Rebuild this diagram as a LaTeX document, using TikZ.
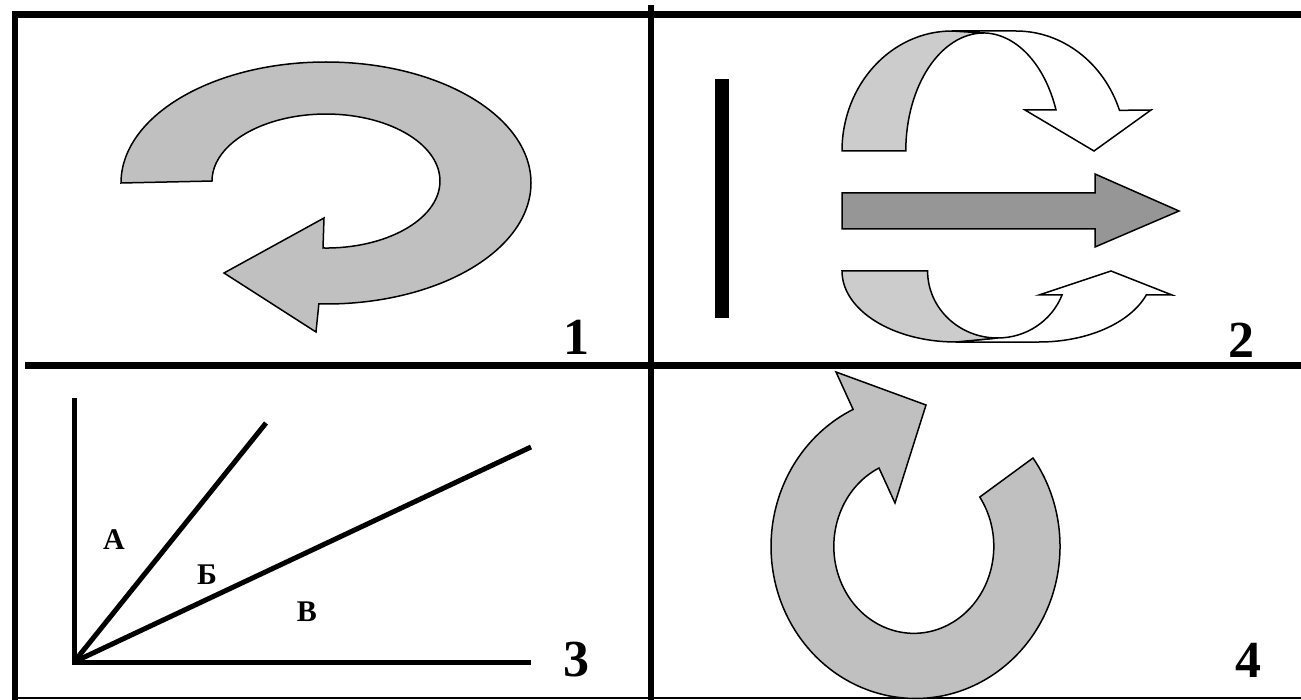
\documentclass[tikz,border=0pt]{standalone}
\usepackage{fontspec}
\setmainfont{Liberation Serif}
\definecolor{fillA}{HTML}{C0C0C0}
\definecolor{fillB}{HTML}{CCCCCC}
\definecolor{fillC}{HTML}{969696}
\begin{document}
\begin{tikzpicture}[x=0.5pt,y=-0.5pt,
  frameline/.style={line width=3.5pt},
  shapeline/.style={draw=black,line width=0.75pt,line join=miter},
  numlabel/.style={font=\fontsize{26}{26}\selectfont\bfseries,inner sep=0pt},
  letlabel/.style={font=\fontsize{15}{15}\selectfont\bfseries,inner sep=0pt},
  axisline/.style={line width=2.5pt,line join=miter}]
\useasboundingbox (0,0) rectangle (1301,700);
% frame
\draw[frameline] (12,15) -- (1301,15);
\draw[line width=3pt] (15,12) -- (15,700);
\draw[line width=3pt] (651,5) -- (651,700);
\draw[frameline] (25,365) -- (1301,365);
\draw[line width=0.8pt] (15,698) -- (1301,698);

% panel 1
\filldraw[shapeline, fill=fillA] (121,183)
  arc[start angle=180, end angle=452, x radius=205, y radius=121]
  -- (316,332) -- (224,273) -- (324,218) -- (323,248)
  arc[start angle=451.5, end angle=180, x radius=114, y radius=67] -- cycle;
\node[numlabel] (n1) at (576,337) {1};

% panel 2
\fill (715,79) rectangle (729,318);
% top curved arrow
\filldraw[shapeline, fill=white] (952,31) -- (1016,31)
  arc[start angle=270, end angle=340.2, x radius=110, y radius=120]
  -- (1151,110) -- (1094,151) -- (1025,110) -- (1056,110)
  arc[start angle=339.7, end angle=270, x radius=78, y radius=118] -- cycle;
\filldraw[shapeline, fill=fillB] (842,151)
  arc[start angle=180, end angle=270, x radius=110, y radius=120]
  -- (983.8,33)
  arc[start angle=270, end angle=180, x radius=78, y radius=118] -- cycle;
% middle arrow
\filldraw[shapeline, fill=fillC] (842,193) -- (1095,193) -- (1095,174)
  -- (1179,211) -- (1095,247) -- (1095,229) -- (842,229) -- cycle;
% bottom curved arrow
\filldraw[shapeline, fill=white] (956,342) -- (1039,342)
  arc[start angle=90, end angle=19.7, x radius=114, y radius=71]
  -- (1172,295) -- (1111,271) -- (1039,295) -- (1062,295)
  arc[start angle=21, end angle=90, x radius=69, y radius=67] -- cycle;
\filldraw[shapeline, fill=fillB] (842,271)
  arc[start angle=180, end angle=90, x radius=114, y radius=71]
  -- (997.6,338)
  arc[start angle=90, end angle=180, x radius=70, y radius=67] -- cycle;
\node[numlabel] (n2) at (1241,340) {2};

% panel 3
\coordinate (O) at (74,662);
\coordinate (ytop) at (74,398);
\coordinate (xend) at (531,662);
\coordinate (rA) at (266,423);
\coordinate (rB) at (531,447);
\draw[axisline] (ytop) -- (O) -- (xend);
\draw[axisline] (O) -- (rA);
\draw[axisline] (O) -- (rB);
\node[letlabel] (la) at (114,540) {А};
\node[letlabel] (lb) at (207,575) {Б};
\node[letlabel] (lv) at (307,612) {В};
\node[numlabel] (n3) at (576,660) {3};

% panel 4
\filldraw[shapeline, fill=fillA] (1033,458)
  arc[start angle=324.4, end angle=604.4, x radius=144.5, y radius=152]
  -- (836,372) -- (926,405) -- (895,503) -- (879,468)
  arc[start angle=604.2, end angle=325.5, x radius=80, y radius=87] -- cycle;
\node[numlabel] (n4) at (1248,660) {4};
\end{tikzpicture}
\end{document}
